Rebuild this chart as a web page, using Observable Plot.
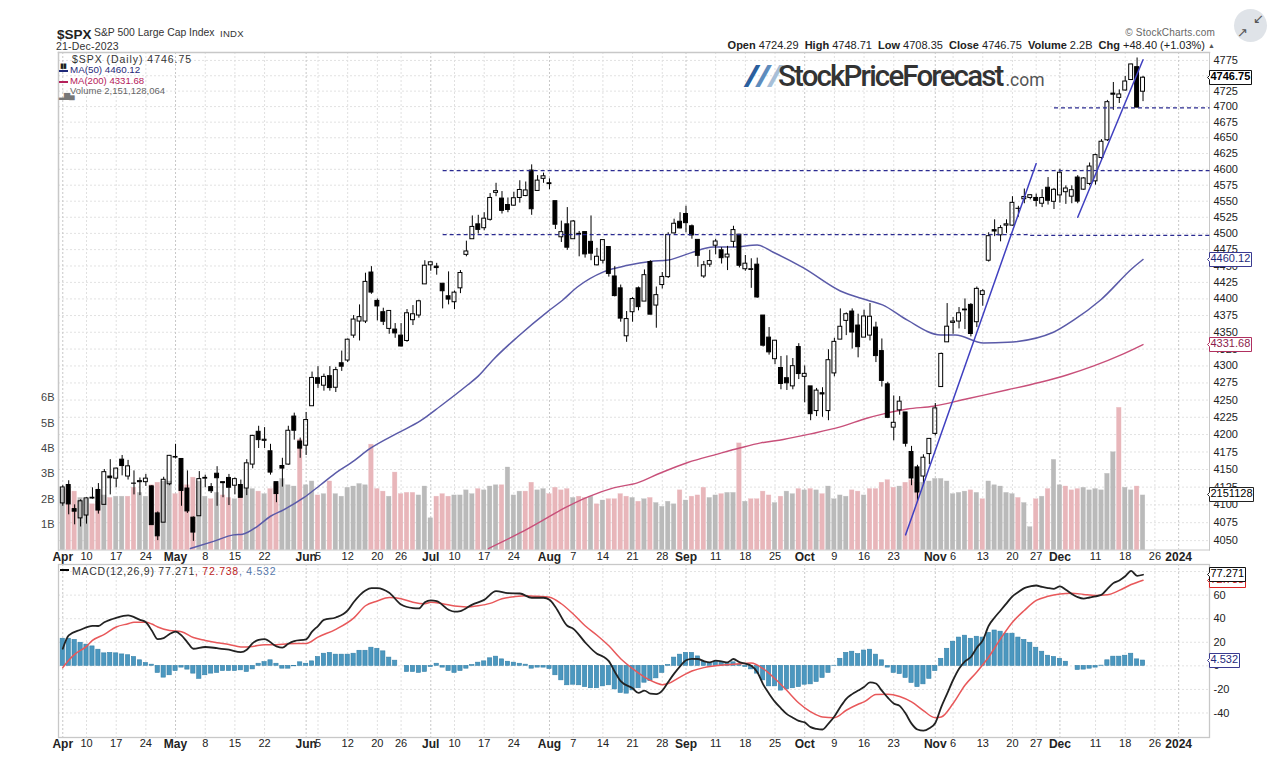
<!DOCTYPE html>
<html><head><meta charset="utf-8">
<script src="https://cdn.jsdelivr.net/npm/d3@7"></script>
<script src="https://cdn.jsdelivr.net/npm/@observablehq/plot@0.6"></script>
<style>
html,body{margin:0;padding:0;background:#fff;width:1274px;height:776px;overflow:hidden;font-family:"Liberation Sans",Arial,sans-serif}
#chart{position:relative;width:1274px;height:776px}
.t{position:absolute;white-space:nowrap;line-height:1}
.tag-close text{fill:#000;font-weight:700}
.tag-ma50 text,.tag-hist text{fill:#1f2a7a}
.tag-ma200 text{fill:#8c1c4c}
.tag-signal text{fill:#c22}
</style></head><body><div id="chart"></div>
<script>
// Trading-day candles, Apr 3 – Dec 21 2023
const opens=[
4102,4128,4094,4081,4085,4110,4121,4100,4140,4137,4164,4140,4130,4132,4132,4126,4088,4075,4129,
4167,4165,4123,4082,4084,4137,4125,4144,4132,4138,4127,4128,4123,4157,4204,4191,4176,4132,4155,4157,4226,4190,
4184,4241,4282,4271,4285,4268,4304,4308,4345,4366,4366,4440,4397,4380,4355,4354,4345,4337,4368,4375,4422,
4451,4449,4423,4404,4395,4416,4467,4491,4514,4508,4521,4563,4554,4544,4543,4555,4558,4598,4566,4585,
4578,4550,4494,4514,4491,4498,4502,4487,4451,4458,4479,4434,4416,4344,4380,4416,4396,4456,4390,4421,4433,4500,4518,
4530,4511,4490,4434,4452,4481,4474,4463,4487,4498,4445,4445,4452,4375,4342,4310,4297,4282,4270,4328,
4284,4270,4234,4260,4234,4289,4339,4367,4381,4360,4342,4345,4357,4322,4273,4210,4235,4232,4175,4153,4140,4172,
4201,4269,4335,4364,4366,4384,4391,4365,4406,4458,4505,4497,4512,4512,4538,4553,4555,4555,4546,4571,4549,
4559,4564,4557,4587,4568,4577,4581,4618,4646,4721,4714,4726,4743,4764,4724];
const highs=[
4127,4134,4100,4107,4110,4124,4130,4150,4164,4152,4170,4163,4148,4138,4143,4127,4090,4139,4170,
4186,4165,4148,4083,4147,4142,4130,4154,4132,4143,4138,4135,4164,4199,4212,4210,4186,4132,4166,4212,4231,4195,
4232,4291,4299,4288,4299,4298,4322,4340,4375,4391,4439,4449,4400,4386,4382,4363,4363,4384,4390,4398,4458,
4456,4454,4423,4441,4412,4443,4488,4527,4528,4532,4562,4578,4565,4555,4564,4582,4580,4607,4590,4594,
4585,4550,4519,4540,4520,4503,4502,4527,4477,4490,4479,4449,4421,4381,4402,4418,4444,4458,4418,4440,4501,4522,4532,
4542,4513,4490,4457,4474,4491,4478,4480,4511,4498,4466,4461,4462,4375,4357,4338,4314,4315,4311,4333,
4300,4270,4267,4268,4324,4341,4385,4379,4385,4377,4383,4393,4365,4340,4276,4256,4255,4232,4183,4156,4171,4194,
4245,4319,4393,4372,4387,4400,4393,4418,4414,4501,4521,4512,4521,4557,4542,4569,4560,4561,4568,4587,4570,
4600,4574,4574,4590,4587,4610,4624,4647,4710,4739,4727,4749,4769,4779,4749];
const lows=[
4098,4086,4072,4069,4073,4108,4087,4100,4114,4124,4141,4135,4114,4113,4126,4071,4050,4075,4127,
4165,4098,4088,4049,4084,4124,4116,4098,4110,4099,4114,4110,4113,4151,4180,4180,4142,4103,4125,4156,4192,4166,
4170,4241,4267,4263,4263,4261,4292,4305,4341,4337,4363,4407,4367,4360,4347,4341,4328,4335,4360,4371,4422,
4442,4436,4385,4391,4384,4408,4464,4491,4499,4504,4519,4557,4530,4532,4542,4547,4557,4528,4566,4578,
4568,4506,4486,4474,4491,4464,4462,4458,4450,4453,4433,4403,4365,4335,4365,4382,4396,4376,4356,4415,4431,4499,4507,
4501,4491,4448,4431,4448,4467,4453,4443,4478,4447,4442,4416,4401,4328,4316,4302,4265,4264,4265,4280,
4246,4220,4226,4225,4220,4284,4339,4345,4325,4312,4342,4337,4305,4269,4223,4191,4228,4182,4127,4104,4129,4157,
4198,4269,4335,4347,4355,4354,4343,4357,4389,4456,4495,4487,4500,4511,4525,4546,4552,4541,4540,4544,4537,
4547,4545,4546,4546,4567,4574,4575,4615,4644,4694,4705,4725,4743,4698,4708];
const closes=[
4124.5,4100.6,4090.4,4105,4109.1,4108.9,4092,4146.2,4137.6,4151.3,4154.9,4154.5,4129.8,4133.5,4137,4071.6,4056,4135.4,4169.5,
4167.9,4119.6,4090.8,4061.2,4136.3,4138.1,4119.2,4137.6,4130.6,4124.1,4136.3,4109.9,4158.8,4198.1,4192,4192.6,4145.6,4115.2,4151.3,4205.5,4205.5,4179.8,
4221,4282.4,4273.8,4283.9,4267.5,4293.9,4298.9,4338.9,4369,4372.6,4425.8,4409.6,4388.7,4365.7,4381.9,4348.3,4328.8,4378.4,4376.9,4396.4,4450.4,
4455.6,4446.8,4411.6,4399,4409.5,4439.3,4472.2,4510,4505.4,4522.8,4555,4565.7,4534.9,4536.3,4554.6,4567.5,4566.8,4537.4,4582.2,4589,
4576.7,4513.4,4501.9,4478,4518.4,4499.4,4467.7,4468.8,4464.1,4489.7,4437.9,4404.3,4370.4,4369.7,4399.8,4387.6,4436,4376.3,4405.7,4433.3,4497.6,4514.9,4507.7,
4515.8,4496.8,4465.5,4451.1,4457.5,4487.5,4461.9,4467.4,4505.1,4450.3,4453.5,4444,4402.2,4330,4320.1,4337.4,4273.5,4274.5,4299.7,4288.1,
4288.4,4229.5,4263.8,4258.2,4308.5,4335.7,4358.2,4377,4349.6,4327.8,4373.6,4373.2,4314.6,4278,4224.2,4217,4247.7,4186.8,4137.2,4117.4,4166.8,4193.8,
4237.9,4317.8,4358.3,4366,4378.4,4382.8,4347.4,4415.2,4411.6,4495.7,4502.9,4508.2,4514,4547.4,4538.2,4556.6,4559.3,4550.4,4554.9,4550.6,4567.8,
4594.6,4569.8,4567.2,4549.3,4585.6,4604.4,4622.4,4643.7,4707.1,4719.2,4719.6,4740.6,4768.4,4698.4,4746.8];
// Volume in billions and its colour class: g = grey, p = pink
const volumes=[
2.4,2.4,2.3,2.05,2,1.8,1.9,2.15,2.05,2.1,2.1,2.1,2.45,2.25,2.1,2.55,2.65,2.7,2.7,2.2,2.55,2.55,2.85,2.7,2.1,2,2.25,2.15,2.05,2,2.1,2.4,2.4,2.3,2.2,2.4,2.6,2.8,2.55,2.5,4.35,
2.55,2.7,2.15,2.2,2.7,2.2,2.1,2.45,2.5,2.6,2.55,4.15,2.4,2.3,2.1,3.05,2.2,2.25,2.25,2.15,2.5,
1.25,2.1,2.2,2.1,2.15,2.15,2.35,2.2,2.4,2.35,2.5,2.55,2.55,3.25,2.15,2.3,2.3,2.65,2.35,2.4,
2.2,2.45,2.35,2.4,2.05,2.1,2.05,2.1,1.8,1.95,2,2,2.2,2.1,2.05,1.9,2,2.05,1.85,1.7,1.9,1.8,2.35,
1.95,2.1,2.15,2.45,2.05,2.15,2.2,2.25,2.25,4.2,1.9,2,2,2.3,2.15,1.85,2.1,2.3,2.2,2.4,
2.35,2.4,2.35,2.2,2.5,2,2.15,2.1,2.35,2.3,2.15,2.4,2.4,2.65,2.75,2.45,2.5,2.65,2.75,2.65,2.65,2.7,
2.8,2.8,2.7,2.2,2.25,2.3,2.35,2.25,2,2.7,2.55,2.5,2.25,2.2,2.05,1.85,0.9,2,2.1,2.4,3.55,
2.55,2.5,2.35,2.4,2.45,2.35,2.4,2.35,3,3.85,5.6,2.45,2.35,2.5,2.15];
const volumeKinds=[
"g","p","p","g","g","p","p","g","p","g","g","p","p","g","g","p","p","g","g","p","p","p","p","g","g","p","g","p","p","g","p","g","g","p","g","p","p","g","g","g","p",
"g","g","p","g","p","g","g","g","g","g","g","p","p","p","g","p","p","p","p","g","g",
"g","p","p","p","g","g","g","g","p","g","g","g","p","g","g","g","p","p","g","g",
"p","p","p","p","g","p","p","g","p","g","p","p","p","p","g","p","g","p","g","g","g","g","p",
"g","p","p","p","g","g","p","g","g","p","g","p","p","p","p","g","p","g","g","p",
"g","p","g","p","g","g","g","g","p","p","g","p","p","p","p","p","g","p","p","p","g","g",
"g","g","g","g","g","g","p","g","p","g","g","g","g","g","p","g","g","p","g","p","g",
"g","p","p","p","g","g","g","g","g","g","p","g","g","p","g"];
// MACD(12,26,9) line
const macdDays=[0,1,3,5,6,7,9,11,13,14,15,16,17,18,19,20,21,22,24,26,28,30,31,32,33,34,36,37,38,39,41,42,43,44,46,48,49,51,52,53,55,57,59,60,61,62,63,65,66,67,69,71,73,75,77,79,81,82,83,85,86,88,90,91,92,93,94,96,97,98,99,100,101,102,103,104,105,106,107,108,109,110,111,112,113,114,115,116,117,118,119,120,121,122,123,124,125,126,127,128,129,130,131,132,133,134,135,136,137,138,139,140,141,142,143,144,145,146,147,148,149,150,151,152,153,154,155,156,157,158,159,160,161,162,163,164,165,166,167,168,169,170,171,172,173,174,175,176,177,178,179,180,181,182];
const macdValues=[14.5,25.8,30.6,34,33.8,37,40.8,42.8,39,37,30,22.7,23.6,27,29,25.8,20,14.5,16,15,13.7,11.7,13.7,19.3,22,22.7,16.5,15.4,18.8,21,22.5,29,33.8,39,41,47,54,64,66,66,62,52,49,48.7,54,55.6,55,47.6,46,46.5,52,56,63.4,61.7,61.4,57.8,57.8,56,50,34,31.5,20,10.3,8,4,-5,-13,-19,-23,-21,-23.6,-24,-21,-13.7,-6.6,-0.4,4.7,6,5.8,4,3,4.4,3.8,3,5.8,3.2,1.8,0.1,-5.2,-15.7,-23.6,-30.6,-36,-41,-44,-46.7,-48,-52,-53.5,-54,-49,-43,-35,-28,-24,-21,-18,-14,-15,-21,-27,-32,-34,-40.5,-49,-54,-55,-53,-48.5,-35,-23.6,-12,-2.4,3.8,7.5,15.4,21.6,34,41,47,53,59,62.6,66,67.4,68.2,67,66,65.4,67.4,64.5,61,58.3,57,58,59,60.3,65.4,70.2,72.5,76,80.6,76.4,77.3];
// Signal line
const signalDays=[0,1,2,4,5,7,9,11,12,14,15,16,18,20,22,24,26,28,30,32,34,36,38,41,43,46,49,51,53,55,57,59,61,62,64,66,68,70,72,74,76,78,80,82,84,86,88,90,92,94,96,98,100,101,102,104,106,108,110,112,114,116,118,120,122,124,126,128,130,132,134,135,137,139,141,143,145,147,148,150,152,154,156,158,160,162,164,166,168,170,172,174,176,178,180,182];
const signalValues=[-1.5,4.7,9.7,16.5,21.6,26.7,33,35.7,37,37,35.5,33,30,29,24,21.6,19.6,18.2,16,16.5,18,18,18.8,19,24.4,31,40.5,51,55,58,57,54,52.7,54,52.7,50.7,50,51,53,57,58.6,59.5,59,58.3,52.7,44,34,26,17,6,-2.4,-9.5,-14.5,-16,-15,-9.5,-4.4,-1.5,0,1,1.8,2.4,-2.4,-11,-21,-31.5,-39,-43.4,-44,-37.7,-32.6,-30.6,-24.4,-24,-26,-30.6,-38,-44,-43.4,-32,-16.5,-5.2,7.5,23,37,47,55.5,59,61,61.7,60.6,59.7,60.3,64,69,72.7];
// Histogram
const histValues=[23,23,22,19.6,18,16.5,13.7,10.6,11,10.6,9.7,9,7.5,4.7,2.4,1,-6,-10,-8,-4.4,-1.5,-3.2,-6.6,-11,-8,-6.6,-6,-4.4,-4.4,-4.4,-3.8,-5.2,-3,1.8,3.2,4.7,1.8,-2.4,-2.4,-0.4,3,1.8,3.8,7.5,10.3,11,9.5,9.5,9.5,10.3,12.8,12.8,15.4,14.5,12.3,7,4.4,0,-5.2,-5.2,-6,-5.2,-1,
1.8,-1.5,-4.4,-6,-4.4,-2.4,0.7,2.7,3.8,6.4,7.8,5.5,3.5,2.7,1.8,1,-2.4,-1.5,-1.5,-2.7,-8,-12.3,-16.5,-16,-16.5,-18,-19,-19,-17.4,-16.5,-20,-23,-23.6,-20.8,-19,-14.3,-13,-10.6,-6,0.7,7,9.5,11,11,8,3.2,2,3.2,2.7,1.8,3,1,-1,-3,-6.6,-12.3,-17.4,-17.4,-21,-20,-19,-18,-16,-15.7,-13.7,-10.3,-6,0.1,6,11,12,10,13,13.7,9.5,4.7,-1.5,-6,-7,-10.3,-14.5,-18,-15.7,-11,-4.4,6,14.5,20.5,24,25.6,23,24.7,24,28,30,29,27.3,27.3,24,22,19.6,15.4,12,8.6,7.5,6,3.5,0,-3.5,-3.2,-2.4,-1.5,0.2,4.7,7.8,7.8,8.6,10.3,5.5,4.5];
// Moving averages
const ma50Days=[21.5,25.4,28.8,30.3,32.8,35,37.2,40.6,43.4,46.3,48.5,51.8,56.4,60.3,63.6,68.2,70,72.6,76.6,81.7,84.2,86.7,91.1,95.2,99,102,105.8,109.6,113,117,119.7,124.8,131,135.6,138.1,142.3,147.9,150.4,155.1,159.2,166.9,170.3,174.8,180.4,182];
const ma50Values=[4039,4049,4058,4059,4070,4084,4093,4110,4128,4147,4159,4180,4202,4220,4241,4272,4285,4310,4343,4381,4398,4418,4441,4451,4457,4459,4470,4479,4479,4482,4471,4447,4412,4398,4391,4368,4346,4346,4334,4335,4350,4368,4398,4448,4460];
const ma200Days=[71.7,77.1,81,84.4,88.4,92.8,96.8,100.7,105.3,110.3,114.2,117.6,121.4,126,131,135.6,138.3,142.3,146.7,152.4,159.2,164.7,169.3,173.7,178.2,182];
const ma200Values=[4039,4061,4079,4095,4111,4124,4131,4145,4160,4172,4181,4188,4193,4201,4211,4224,4230,4237,4241,4252,4265,4276,4287,4300,4316,4331.7];
// Support / resistance levels and trend lines
const levels=[{from:64,to:193.2,price:4598},{from:64,to:163,price:4498},{from:163,to:193.2,price:4497},{from:167,to:193.2,price:4698}];
const trendA=[{i:142,p:4058},{i:164,p:4609}];
const trendB=[{i:171,p:4525},{i:182,p:4776}];
// Ticks
const priceGridTicks=[4050,4075,4100,4125,4150,4175,4200,4225,4250,4275,4300,4325,4350,4375,4400,4425,4450,4475,4500,4525,4550,4575,4600,4625,4650,4675,4700,4725,4750,4775];
const priceLabelTicks=priceGridTicks.filter(d=>d!==4750);
const volumeTicks=[1,2,3,4,5,6];
const macdTicks=[-40,-20,0,20,40,60,80];
const dayTicks=[[4,"10"],[9,"17"],[14,"24"],[24,"8"],[29,"15"],[34,"22"],[43,"5"],[48,"12"],[53,"20"],[57,"26"],[66,"10"],[71,"17"],[76,"24"],[86,"7"],[91,"14"],[96,"21"],[101,"28"],[110,"11"],[115,"18"],[120,"25"],[130,"9"],[135,"16"],[140,"23"],[150,"6"],[155,"13"],[160,"20"],[164,"27"],[174,"11"],[179,"18"],[184,"26"]];
const monthTicks=[[0,"Apr"],[19,"May"],[41,"Jun"],[62,"Jul"],[82,"Aug"],[105,"Sep"],[125,"Oct"],[147,"Nov"],[168,"Dec"],[188,"2024"]];

const candles=closes.map((c,i)=>({i,o:opens[i],h:highs[i],l:lows[i],c,top:Math.max(opens[i],c),bot:Math.min(opens[i],c)}));
const vols=volumes.map((v,i)=>({i,v,k:volumeKinds[i]}));
const hist=histValues.map((v,i)=>({i,v}));
const zip=(a,b)=>a.map((x,k)=>({i:x,v:b[k]}));
const ma50=zip(ma50Days,ma50Values), ma200=zip(ma200Days,ma200Values);
const macd=zip(macdDays,macdValues), signal=zip(signalDays,signalValues);
const dayMap=new Map(dayTicks), monthMap=new Map(monthTicks);
const F='"Liberation Sans",Arial,sans-serif';
const xOpt={domain:[-0.72,193.2]};
const W=1274,H=776,mL=58,mR=65;
const base=(top,bottom)=>({width:W,height:H,marginLeft:mL,marginRight:mR,marginTop:top,marginBottom:H-bottom,
  x:{...xOpt,axis:null},style:{position:"absolute",left:"0px",top:"0px",background:"transparent",overflow:"visible",fontFamily:F}});
const priceY={type:"log",domain:[4037,4788],axis:null};
const volY={domain:[0,19.6],axis:null};
const macdY={domain:[-60.8,86],axis:null};
const xTicks=dayTicks.map(d=>d[0]), mTicks=monthTicks.map(d=>d[0]);
const xGrid=()=>[
  Plot.gridX(xTicks,{stroke:"#e0e0e0",strokeOpacity:1,strokeDasharray:"2,2"}),
  Plot.gridX(mTicks,{stroke:"#c8c8c8",strokeOpacity:1,strokeDasharray:"2,2"})];
const xLabels=(pad)=>[
  Plot.axisX(xTicks,{anchor:"bottom",tickSize:0,tickPadding:pad,tickFormat:d=>dayMap.get(d),fontSize:11,fill:"#222",label:null}),
  Plot.axisX(mTicks,{anchor:"bottom",tickSize:0,tickPadding:pad,tickFormat:d=>monthMap.get(d),fontSize:12,fontWeight:"bold",fill:"#222",label:null})];
const tag=(d,opts)=>Plot.tip(d,{anchor:"left",pointerSize:4,fontSize:11,textPadding:1,lineHeight:1,fill:"#fff",filter:null,pathFilter:null,...opts});

const gridLayer=Plot.plot({...base(52,549.5),y:priceY,marks:[
  Plot.gridY(priceGridTicks,{stroke:"#e2e2e2",strokeOpacity:1,strokeDasharray:"2,2"}),
  ...xGrid(),
  Plot.frame({stroke:"#c8c8c8",strokeWidth:1.5,anchor:"top"}),
  Plot.frame({stroke:"#c8c8c8",strokeWidth:1,anchor:"right"}),
  Plot.frame({stroke:"#c8c8c8",strokeWidth:1.5,anchor:"left"}),
  Plot.frame({stroke:"#c8c8c8",strokeWidth:1,anchor:"bottom"}),
  Plot.axisY(priceLabelTicks,{anchor:"right",tickSize:0,tickPadding:4,fontSize:11,fill:"#222",tickFormat:d=>String(d),label:null}),
  ...xLabels(2)
]});
const volumeLayer=Plot.plot({...base(52,549.5),y:volY,
  color:{domain:["g","p"],range:["#bababa","#e8b6ba"]},marks:[
  Plot.rect(vols,{x1:d=>d.i-.38,x2:d=>d.i+.38,y1:0,y2:"v",fill:"k",stroke:"k",strokeOpacity:.6,strokeWidth:.5}),
  Plot.axisY(volumeTicks,{anchor:"left",tickSize:0,tickPadding:4,fontSize:11,fill:"#444",tickFormat:d=>d+"B",label:null}),
  tag([{i:192.9,v:2.19}],{x:"i",y:"v",title:()=>"2151128",stroke:"#222"})
]});
const priceLayer=Plot.plot({...base(52,549.5),y:priceY,marks:[
  Plot.line(ma200,{x:"i",y:"v",stroke:"#c8507a",strokeWidth:1.4,curve:"monotone-x"}),
  Plot.line(ma50,{x:"i",y:"v",stroke:"#5a5aa8",strokeWidth:1.5,curve:"monotone-x"}),
  Plot.ruleX(candles,{x:"i",y1:"h",y2:"top",stroke:"#000",strokeWidth:1}),
  Plot.ruleX(candles,{x:"i",y1:"bot",y2:"l",stroke:"#000",strokeWidth:1}),
  Plot.rect(candles.filter(d=>d.c>=d.o),{x1:d=>d.i-.33,x2:d=>d.i+.33,y1:"bot",y2:"top",fill:"none",stroke:"#000",strokeWidth:1}),
  Plot.rect(candles.filter(d=>d.c<d.o),{x1:d=>d.i-.33,x2:d=>d.i+.33,y1:"bot",y2:"top",fill:"#000",stroke:"#000",strokeWidth:1}),
  Plot.link(levels,{x1:"from",x2:"to",y1:"price",y2:"price",stroke:"#2a2a90",strokeWidth:1.2,strokeDasharray:"4,3"}),
  Plot.line(trendA,{x:"i",y:"p",stroke:"#4040c0",strokeWidth:1.5}),
  Plot.line(trendB,{x:"i",y:"p",stroke:"#4040c0",strokeWidth:1.5}),
  tag([{i:192.9,v:4331.68}],{x:"i",y:"v",title:()=>"4331.68",stroke:"#b03060",className:"tag-ma200"}),
  tag([{i:192.9,v:4460.12}],{x:"i",y:"v",title:()=>"4460.12",stroke:"#3a3a90",className:"tag-ma50"}),
  tag([{i:192.9,v:4746.75}],{x:"i",y:"v",title:()=>"4746.75",stroke:"#111",className:"tag-close"})
]});
const macdLayer=Plot.plot({...base(564,737),y:macdY,marks:[
  Plot.gridY(macdTicks,{stroke:"#e2e2e2",strokeOpacity:1,strokeDasharray:"2,2"}),
  ...xGrid(),
  Plot.frame({stroke:"#c8c8c8",strokeWidth:1.3}),
  Plot.axisY(macdTicks,{anchor:"right",tickSize:0,tickPadding:4,fontSize:11,fill:"#222",tickFormat:d=>String(d),label:null}),
  ...xLabels(2),
  Plot.rect(hist,{x1:d=>d.i-.36,x2:d=>d.i+.36,y1:0,y2:"v",fill:"#4b97bf",stroke:"#3580a8",strokeWidth:.6}),
  Plot.line(signal,{x:"i",y:"v",stroke:"#e8585a",strokeWidth:1.5,curve:"monotone-x"}),
  Plot.line(macd,{x:"i",y:"v",stroke:"#222",strokeWidth:1.8,curve:"monotone-x"}),
  tag([{i:192.9,v:72.738}],{x:"i",y:"v",title:()=>"72.738",stroke:"#d22",className:"tag-signal"}),
  tag([{i:192.9,v:77.271}],{x:"i",y:"v",title:()=>"77.271",stroke:"#111"}),
  tag([{i:192.9,v:4.532}],{x:"i",y:"v",title:()=>"4.532",stroke:"#3a3a90",className:"tag-hist"})
]});
const root=document.getElementById("chart");
[gridLayer,volumeLayer,priceLayer,macdLayer].forEach(s=>root.appendChild(s));

// Text furniture
const add=(html,css)=>{const d=document.createElement("div");d.className="t";d.style.cssText=css;d.innerHTML=html;root.appendChild(d);return d;};
add('<b style="font-size:13.5px;color:#222">$SPX</b>',"left:57px;top:26px");
add('S&amp;P 500 Large Cap Index',"left:94px;top:28px;font-size:10.4px;color:#333");
add('INDX',"left:220px;top:29px;font-size:9.5px;color:#333;letter-spacing:.3px");
add("21-Dec-2023","left:56px;top:41px;font-size:10.5px;color:#333;letter-spacing:.2px");
add('$SPX (Daily) 4746.75',"left:72px;top:54px;color:#333;font-size:10.5px;letter-spacing:.95px");
add('<span style="font-size:7px;letter-spacing:-1px;color:#222">▮▮</span>',"left:60px;top:55px");
add('MA(50) 4460.12',"left:70px;top:65px;color:#1f2a7a;font-size:9.8px");
add('',"left:59px;top:70px;width:9px;height:1.6px;background:#1f2a7a");
add('MA(200) 4331.68',"left:70px;top:76px;color:#b5205a;font-size:9.6px");
add('',"left:59px;top:81px;width:9px;height:1.6px;background:#b5205a");
add('Volume 2,151,128,064',"left:70px;top:86px;color:#666;font-size:9.5px");
add('<span style="font-size:8px;letter-spacing:-1px;color:#777">▂▆▄</span>',"left:59px;top:85px");
add('',"left:60px;top:569px;width:9px;height:2px;background:#000");
add('MACD(12,26,9) 77.271<span style="color:#b22">, 72.738</span><span style="color:#5577aa">, 4.532</span>',"left:72px;top:566px;color:#333;font-size:10.5px;letter-spacing:.75px");
add("© StockCharts.com","right:59px;top:28px;font-size:10px;color:#666;letter-spacing:.2px");
add('<b>Open</b> 4724.29 &nbsp;<b>High</b> 4748.71 &nbsp;<b>Low</b> 4708.35 &nbsp;<b>Close</b> 4746.75 &nbsp;<b>Volume</b> 2.2B &nbsp;<b>Chg</b> +48.40 (+1.03%) <span style="font-size:7px;vertical-align:1px;color:#555">▲</span>',"right:59px;top:40px;font-size:11px;color:#222");
add('<i style="font-weight:700;letter-spacing:-1.5px"><span style="color:#2b5f9e">/</span><span style="color:#5e8cbd">/</span><span style="color:#a7bfd8">/</span></i>',"left:745px;top:60px;font-size:31px;font-family:'Open Sans'");
add('<span style="font-weight:500;font-size:29.5px;letter-spacing:-1.85px;color:#333">StockPriceForecast</span><span style="font-size:17.5px;color:#555;letter-spacing:0;margin-left:3px">.com</span>',"left:778px;top:62px;font-family:Roboto");
add('<span style="position:absolute;left:19px;top:3px;font-size:13px;color:#555;font-family:\'DejaVu Sans\'">↙</span><span style="position:absolute;left:3px;top:17px;font-size:13px;color:#555;font-family:\'DejaVu Sans\'">↗</span>',"left:1234px;top:9px;width:33px;height:33px;border-radius:50%;background:#dfe3e8");
</script></body></html>
